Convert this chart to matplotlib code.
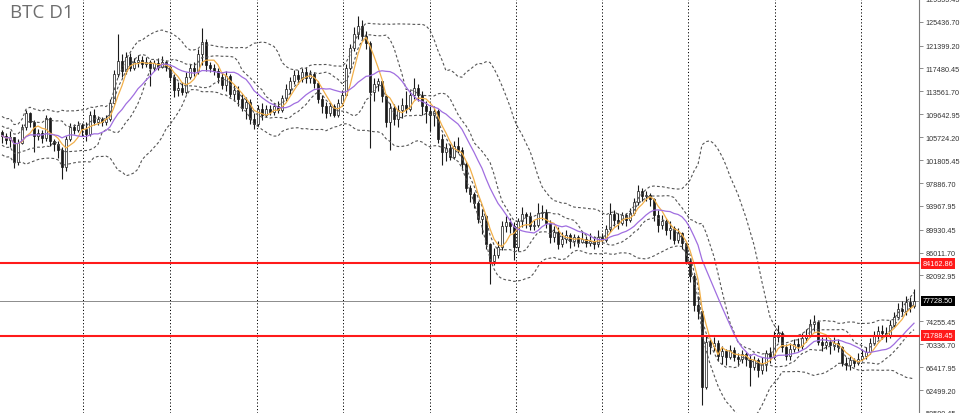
import matplotlib.pyplot as plt
import numpy as np

# BTC daily closes / highs / lows (thousands USD)
close_k = [106.0, 105.2, 105.8, 101.5, 104.8, 107.5, 109.8, 108.4, 106.0, 106.5,
           105.6, 109.0, 105.0, 104.6, 103.6, 100.7, 105.5, 107.5, 107.0, 107.8,
           107.2, 106.2, 109.5, 108.4, 108.8, 108.4, 108.9, 111.5, 116.5, 118.8,
           117.0, 119.5, 117.5, 118.5, 119.0, 118.2, 118.6, 117.6, 118.4, 117.8,
           118.6, 117.8, 116.0, 113.8, 114.2, 113.5, 116.0, 117.5, 117.0, 120.0,
           122.0, 118.0, 117.5, 117.0, 116.0, 114.6, 116.2, 113.2, 113.8, 112.2,
           110.8, 111.8, 108.8, 108.0, 110.5, 109.6, 110.6, 110.0, 111.0, 110.4,
           112.5, 114.0, 115.4, 116.4, 115.6, 116.8, 115.8, 116.6, 115.0, 112.2,
           111.0, 109.8, 111.0, 109.6, 111.5, 113.0, 117.6, 121.0, 123.4, 124.8,
           123.0, 121.8, 113.5, 114.8, 115.3, 112.8, 108.4, 110.8, 108.8, 110.4,
           111.2, 110.6, 113.0, 114.2, 113.0, 111.0, 110.2, 109.6, 110.2, 105.4,
           103.2, 103.8, 102.4, 104.2, 103.6, 101.2, 97.0, 96.0, 94.4, 91.8,
           92.2, 87.4, 84.6, 85.6, 87.0, 90.6, 91.2, 90.6, 87.0, 91.4,
           92.6, 92.2, 90.6, 90.8, 92.8, 93.0, 91.0, 88.6, 89.6, 87.4,
           88.4, 89.0, 88.0, 88.6, 87.8, 88.4, 87.6, 88.0, 87.4, 88.6,
           88.2, 90.0, 92.6, 91.6, 91.0, 92.4, 91.6, 92.8, 94.6, 96.6,
           95.6, 95.8, 95.2, 92.4, 90.8, 91.4, 89.8, 90.2, 88.2, 89.4,
           87.6, 84.6, 82.0, 77.0, 76.0, 63.0, 70.8, 70.0, 70.6, 68.4,
           69.2, 68.2, 69.4, 68.2, 67.8, 68.6, 67.8, 66.4, 67.6, 66.0,
           67.0, 68.8, 68.2, 71.6, 72.2, 69.8, 68.4, 69.6, 70.4, 70.0,
           71.4, 72.0, 73.8, 74.2, 70.8, 70.2, 70.8, 70.2, 70.6, 69.8,
           67.2, 66.8, 67.6, 67.2, 67.8, 68.4, 69.0, 70.6, 71.8, 72.6,
           72.2, 71.8, 73.6, 75.0, 76.4, 76.0, 77.6, 76.8, 77.7285]
high_k = [107.0, 106.5, 106.8, 105.8, 105.5, 108.0, 110.4, 110.0, 108.6, 107.2,
          106.9, 109.6, 109.2, 105.5, 105.0, 104.0, 106.0, 108.2, 108.0, 108.5,
          108.2, 108.3, 110.2, 110.5, 109.4, 109.2, 109.6, 112.2, 117.2, 123.4,
          120.0, 120.3, 120.2, 119.2, 119.8, 119.6, 119.5, 119.0, 119.0, 119.2,
          119.6, 119.0, 118.2, 116.5, 115.2, 115.2, 116.8, 118.2, 118.5, 120.8,
          124.4, 122.5, 118.6, 118.2, 117.5, 116.8, 117.0, 116.5, 114.6, 114.5,
          113.2, 112.6, 112.2, 109.8, 111.2, 111.5, 111.2, 111.2, 111.6, 112.0,
          113.0, 114.8, 116.0, 117.2, 117.2, 117.6, 117.8, 117.2, 116.8, 115.4,
          113.0, 111.8, 111.8, 111.4, 112.2, 113.8, 118.2, 121.6, 124.6, 126.4,
          125.8, 123.8, 122.2, 115.8, 115.8, 115.2, 113.2, 111.6, 111.4, 111.2,
          112.4, 113.6, 113.8, 115.8, 114.8, 113.6, 112.0, 111.0, 111.0, 110.6,
          106.2, 104.8, 104.5, 105.0, 105.8, 104.0, 101.6, 97.6, 96.4, 94.8,
          93.5, 92.4, 87.6, 86.8, 88.0, 91.4, 92.2, 92.0, 91.2, 92.0,
          93.8, 93.0, 93.0, 91.6, 94.4, 94.2, 93.4, 91.6, 90.6, 90.4,
          89.6, 89.8, 89.4, 89.2, 89.0, 89.6, 88.8, 89.4, 88.8, 89.8,
          89.4, 90.8, 94.4, 93.2, 92.8, 93.0, 92.8, 93.6, 95.4, 97.6,
          97.0, 96.6, 96.2, 95.4, 93.2, 92.4, 91.8, 91.4, 90.6, 90.2,
          89.6, 88.0, 85.0, 82.4, 78.5, 76.0, 71.8, 71.4, 71.6, 71.0,
          70.0, 69.6, 70.2, 69.8, 68.8, 69.4, 69.0, 68.6, 68.4, 68.0,
          68.2, 69.4, 69.8, 72.6, 73.6, 72.6, 70.4, 70.6, 71.2, 71.4,
          72.2, 73.0, 74.6, 75.4, 74.4, 71.6, 71.6, 71.4, 71.6, 71.2,
          70.0, 68.2, 68.4, 68.0, 68.8, 69.6, 69.8, 71.4, 72.6, 73.4,
          73.6, 73.2, 74.4, 75.8, 77.4, 77.8, 78.6, 78.4, 79.8]
low_k = [104.8, 104.5, 104.0, 100.5, 101.0, 104.5, 107.0, 107.5, 103.2, 105.3,
         104.8, 105.0, 104.2, 103.4, 102.2, 98.5, 100.0, 105.0, 106.2, 106.6,
         106.0, 105.0, 106.0, 107.8, 107.8, 107.6, 107.8, 108.5, 111.4, 116.0,
         116.0, 116.5, 117.0, 117.2, 117.8, 117.5, 117.8, 114.4, 117.0, 117.2,
         117.5, 117.0, 115.4, 112.6, 112.8, 113.0, 113.2, 115.6, 116.2, 116.5,
         118.0, 117.0, 116.8, 116.4, 115.0, 114.0, 113.6, 112.6, 112.0, 111.0,
         110.2, 108.8, 108.0, 107.2, 107.6, 108.6, 109.2, 109.5, 109.6, 109.8,
         110.0, 112.0, 113.2, 114.8, 114.8, 115.2, 115.0, 115.0, 114.2, 111.6,
         109.8, 109.0, 109.4, 109.2, 109.2, 111.0, 112.8, 117.2, 120.5, 122.6,
         122.4, 120.8, 103.8, 112.0, 113.6, 111.8, 107.5, 103.6, 107.8, 107.4,
         109.0, 109.8, 110.2, 112.2, 112.0, 109.6, 108.2, 106.8, 107.6, 104.8,
         101.0, 101.6, 101.9, 102.0, 103.0, 100.2, 96.4, 94.6, 93.6, 91.0,
         89.2, 86.6, 80.6, 83.8, 85.0, 86.4, 89.6, 89.4, 84.8, 86.2,
         90.4, 90.2, 89.8, 89.8, 90.4, 91.6, 90.2, 87.6, 87.8, 86.6,
         87.0, 87.6, 86.8, 87.2, 87.0, 87.6, 87.0, 87.2, 86.6, 87.0,
         87.6, 87.8, 89.6, 90.6, 90.0, 90.8, 90.6, 91.2, 92.4, 94.2,
         94.8, 94.8, 94.0, 91.4, 89.6, 90.0, 89.0, 88.4, 87.4, 87.6,
         86.6, 84.0, 81.0, 76.0, 74.6, 60.0, 62.6, 68.6, 69.2, 67.4,
         67.0, 66.8, 67.8, 67.4, 66.6, 67.2, 66.6, 63.2, 66.0, 64.8,
         65.2, 65.8, 67.2, 67.8, 70.8, 69.0, 67.6, 67.6, 69.0, 69.2,
         69.6, 70.8, 71.6, 72.6, 70.2, 69.2, 69.6, 68.6, 69.4, 69.0,
         66.6, 66.0, 66.0, 66.4, 66.8, 67.4, 67.8, 68.6, 70.2, 71.2,
         71.2, 70.8, 71.4, 73.2, 74.8, 75.2, 75.4, 75.8, 76.6]
first_open_k = 106.6

tick_values = [129355.45, 125436.70, 121399.20, 117480.45, 113561.70, 109642.95,
               105724.20, 101805.45, 97886.70, 93967.95, 89930.45, 86011.70,
               82092.95, 74255.45, 70336.70, 66417.95, 62499.20, 58580.45]
level_lines = [84162.86, 71788.45]
last_price = 77728.50

close = np.array(close_k) * 1000
high = np.array(high_k) * 1000
low = np.array(low_k) * 1000
opn = np.r_[first_open_k * 1000, close[:-1]]
high = np.maximum(high, np.maximum(opn, close))
low = np.minimum(low, np.minimum(opn, close))
x = np.arange(len(close))


# rolling stats; the first bars use whatever history is on screen
def sma(a, n):
    return np.array([a[max(0, i - n + 1):i + 1].mean() for i in range(len(a))])


def bands(a, n, k):
    m = sma(a, n)
    sd = np.array([a[max(0, i - n + 1):i + 1].std() for i in range(len(a))])
    sd[:4] = sd[4]
    return m + k * sd, m - k * sd


fig = plt.figure(figsize=(9.6, 4.14), dpi=100)
ax = fig.add_axes([0, 0, 919 / 960, 1])

# vertical dotted grid
for gx in [20.25, 42, 63.75, 85.25, 107, 128.5, 150, 171.5, 193.25, 214.75]:
    ax.axvline(gx, color='black', lw=0.7, ls=(0, (1.2, 2.2)), zorder=0)

# candles
ax.vlines(x, low, high, color='#1a1a1a', lw=0.8, zorder=2)
up = close >= opn
body_lo = np.minimum(opn, close)
body_h = np.maximum(np.abs(close - opn), 60)
ax.bar(x, body_h, bottom=body_lo, width=0.62,
       color=np.where(up, 'white', '#1a1a1a'), edgecolor='#1a1a1a', lw=0.5, zorder=3)

# indicators
for n, k in [(20, 2.0), (10, 1.0)]:
    ub, lb = bands(close, n, k)
    ax.plot(x, ub, color='#555555', lw=0.8, ls=(0, (2.5, 2)), zorder=4)
    ax.plot(x, lb, color='#555555', lw=0.8, ls=(0, (2.5, 2)), zorder=4)
ax.plot(x, sma(close, 5), color='#f2b04a', lw=0.9, zorder=5)
ax.plot(x, sma(close, 13), color='#a06ee0', lw=0.9, zorder=5)

# level lines
ax.axhline(last_price, color='#8c8c8c', lw=0.7, zorder=1)
for lv in level_lines:
    ax.axhline(lv, color='#ff1a1a', lw=1.5, zorder=6, clip_on=False)

ax.set_xlim(-0.5, 229.25)
ax.set_ylim(58784, 128999)

for s in ['top', 'left', 'bottom']:
    ax.spines[s].set_visible(False)
ax.spines['right'].set_color('#7a7a7a')
ax.spines['right'].set_linewidth(0.8)
ax.set_xticks([])
ax.yaxis.tick_right()
ax.set_yticks(tick_values)
ax.set_yticklabels(['%.2f' % v for v in tick_values])
ax.tick_params(axis='y', direction='out', length=3, width=0.6, color='#7a7a7a',
               labelsize=5.2, labelcolor='#333333', pad=1.5)
for lab in ax.get_yticklabels():
    lab.set_fontfamily('Liberation Sans')

tr = ax.get_yaxis_transform()
for lv in level_lines:
    ax.text(1.004, lv, '%.2f' % lv, transform=tr, ha='left', va='center',
            fontsize=5.2, color='white', family='Liberation Sans', zorder=10,
            bbox=dict(boxstyle='square,pad=0.25', fc='#ff1a1a', ec='none'))
ax.text(1.004, last_price, '%.2f' % last_price, transform=tr, ha='left', va='center',
        fontsize=5.2, color='white', family='Liberation Sans', zorder=10,
        bbox=dict(boxstyle='square,pad=0.25', fc='black', ec='none'))

ax.text(10 / 919, 1 - 4 / 414, 'BTC D1', transform=ax.transAxes, ha='left', va='top',
        fontsize=13.5, color='#6e6e6e', family='Open Sans')

fig.savefig('out.png', dpi=100)
